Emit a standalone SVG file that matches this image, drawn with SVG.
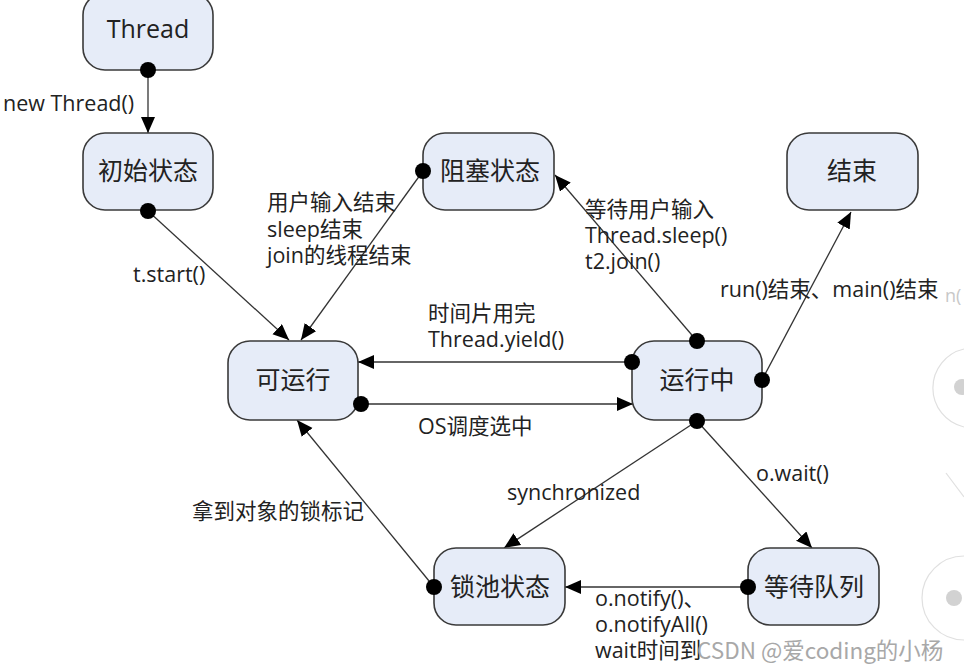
<svg xmlns="http://www.w3.org/2000/svg" width="964" height="671" viewBox="0 0 964 671">
<style>
.node rect{fill:#e6ecf8;stroke:#3a3a3a;stroke-width:1.6}
.node text{font-family:"Open Sans","Noto Sans CJK SC",sans-serif;font-size:25px;fill:#222;text-anchor:middle}
.lbl{font-family:"Open Sans","Noto Sans CJK SC",sans-serif;font-size:21.5px;fill:#222}
.conn line{stroke:#333;stroke-width:1.3;fill:none}
.dot{fill:#000}
.wm{font-family:"Noto Sans CJK SC","Open Sans",sans-serif;font-size:22.5px;fill:#a8a8a8}
</style>
<defs>
<marker id="arr" markerUnits="userSpaceOnUse" markerWidth="18" markerHeight="16" refX="16" refY="7" orient="auto">
<path d="M0,0 L16,7 L0,14 z" fill="#000"/>
</marker>
</defs>
<rect width="964" height="671" fill="#fff"/>
<g fill="none" stroke="#e0e0e0" stroke-width="1.2">
<path d="M964,349 A40,40 0 0 0 964,427"/>
<path d="M964,556 A42,42 0 0 0 964,640"/>
<line x1="946" y1="473" x2="964" y2="497"/>
</g>
<circle cx="962" cy="387" r="8" fill="#d2d2d2"/>
<circle cx="954" cy="598" r="8" fill="#d2d2d2"/>
<text x="945" y="302" font-family="Open Sans,sans-serif" font-size="18" fill="#c8c8c8">n(</text>

<g class="conn">
<line x1="148" y1="70" x2="148" y2="133" marker-end="url(#arr)"/>
<line x1="148" y1="211" x2="289" y2="340" marker-end="url(#arr)"/>
<line x1="423" y1="171" x2="301" y2="340" marker-end="url(#arr)"/>
<line x1="697" y1="341" x2="555" y2="175" marker-end="url(#arr)"/>
<line x1="762" y1="380" x2="851" y2="212" marker-end="url(#arr)"/>
<line x1="632" y1="362" x2="358" y2="362" marker-end="url(#arr)"/>
<line x1="361" y1="404" x2="633" y2="404" marker-end="url(#arr)"/>
<line x1="697" y1="421" x2="504" y2="548" marker-end="url(#arr)"/>
<line x1="697" y1="421" x2="812" y2="548" marker-end="url(#arr)"/>
<line x1="748" y1="587" x2="565" y2="587" marker-end="url(#arr)"/>
<line x1="434" y1="587" x2="297" y2="420" marker-end="url(#arr)"/>
</g>

<g id="thread" class="node"><rect x="83" y="-7" width="130" height="77" rx="22"/><text x="148" y="38">Thread</text></g>
<g id="init" class="node"><rect x="83" y="133" width="130" height="77" rx="22"/><text x="148" y="180">初始状态</text></g>
<g id="blocked" class="node"><rect x="423" y="133" width="131" height="77" rx="22"/><text x="490" y="180">阻塞状态</text></g>
<g id="end" class="node"><rect x="787" y="133" width="131" height="77" rx="22"/><text x="852" y="180">结束</text></g>
<g id="runnable" class="node"><rect x="228" y="341" width="130" height="79" rx="22"/><text x="293" y="389">可运行</text></g>
<g id="running" class="node"><rect x="632" y="341" width="130" height="79" rx="22"/><text x="697" y="389">运行中</text></g>
<g id="lockpool" class="node"><rect x="434" y="548" width="131" height="77" rx="22"/><text x="500" y="596">锁池状态</text></g>
<g id="waitqueue" class="node"><rect x="748" y="548" width="131" height="77" rx="22"/><text x="814" y="596">等待队列</text></g>

<g id="dots">
<circle class="dot" cx="148" cy="70" r="8"/>
<circle class="dot" cx="148" cy="211" r="8"/>
<circle class="dot" cx="423" cy="171" r="8"/>
<circle class="dot" cx="697" cy="341" r="8"/>
<circle class="dot" cx="632" cy="362" r="8"/>
<circle class="dot" cx="762" cy="380" r="8"/>
<circle class="dot" cx="697" cy="421" r="8"/>
<circle class="dot" cx="361" cy="404" r="8"/>
<circle class="dot" cx="434" cy="587" r="8"/>
<circle class="dot" cx="748" cy="587" r="8"/>
</g>

<g id="labels">
<text class="lbl" x="3" y="111">new Thread()</text>
<text class="lbl" x="133" y="282">t.start()</text>
<text class="lbl" x="267" y="210">用户输入结束</text>
<text class="lbl" x="267" y="237">sleep结束</text>
<text class="lbl" x="267" y="263">join的线程结束</text>
<text class="lbl" x="585" y="217">等待用户输入</text>
<text class="lbl" x="585" y="243">Thread.sleep()</text>
<text class="lbl" x="585" y="269">t2.join()</text>
<text class="lbl" x="720" y="297">run()结束、main()结束</text>
<text class="lbl" x="428" y="321">时间片用完</text>
<text class="lbl" x="428" y="347">Thread.yield()</text>
<text class="lbl" x="418" y="434">OS调度选中</text>
<text class="lbl" x="507" y="500">synchronized</text>
<text class="lbl" x="756" y="481">o.wait()</text>
<text class="lbl" x="192" y="519">拿到对象的锁标记</text>
<text class="lbl" x="595" y="606">o.notify()、</text>
<text class="lbl" x="595" y="632">o.notifyAll()</text>
<text class="lbl" x="595" y="658">wait时间到</text>
</g>
<text class="wm" x="697" y="659">CSDN @爱coding的小杨</text>
</svg>
